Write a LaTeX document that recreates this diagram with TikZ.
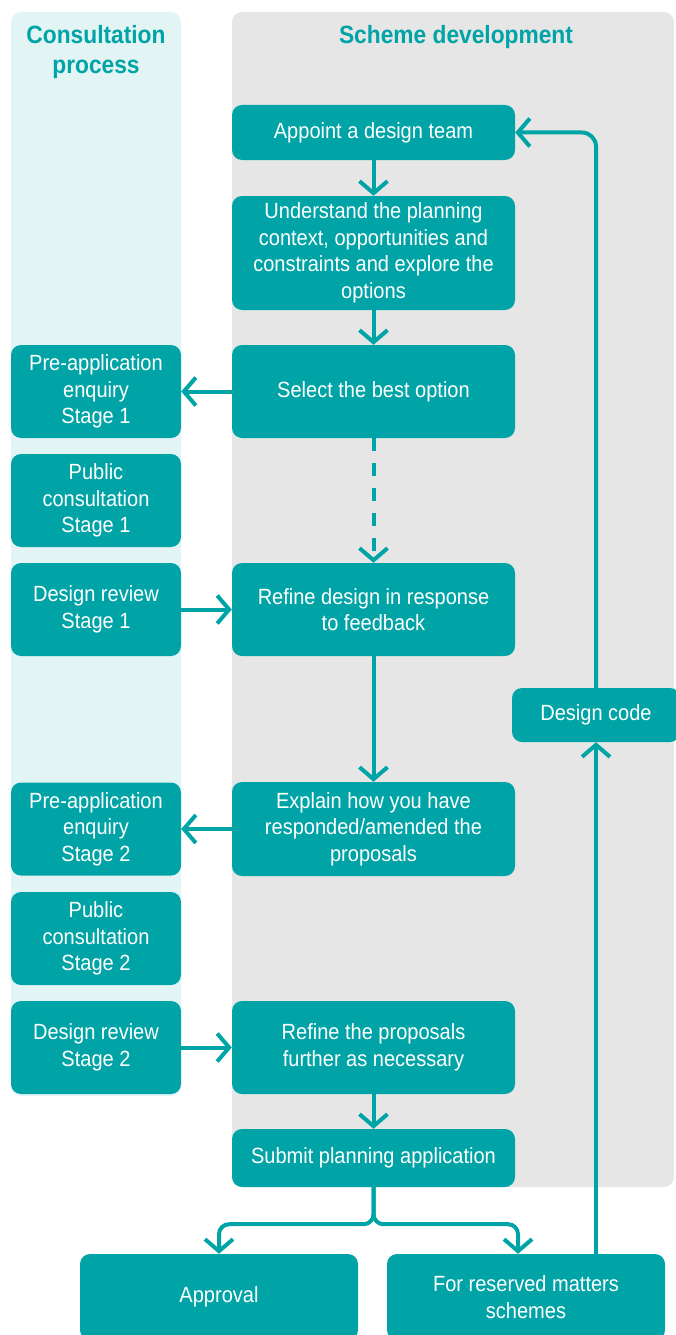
\documentclass[tikz,border=0pt]{standalone}
\usepackage{fontspec}
\setmainfont{Liberation Sans}[FakeStretch=0.91]
\usetikzlibrary{arrows.meta}

\definecolor{planteal}{HTML}{00A4A6}
\definecolor{panelcyan}{HTML}{E3F4F5}
\definecolor{panelgrey}{HTML}{E6E6E6}

\begin{document}
\begin{tikzpicture}[x=1pt, y=-1pt,
    box/.style={fill=planteal, text=white, rounded corners=10pt, align=center,
        inner sep=0pt, font=\fontsize{22}{26.5}\selectfont},
    mainbox/.style={box, minimum width=283pt},
    sidebox/.style={box, minimum width=170pt, minimum height=93pt},
    flow/.style={draw=planteal, line width=4pt, -{Straight Barb[length=12pt,width=28pt]}},
    head/.style={text=planteal, align=center, font=\bfseries\fontsize{25}{30}\selectfont}]
\useasboundingbox (0,0) rectangle (675,1335);

% Column panels
\fill[panelcyan, rounded corners=10pt] (11,12) rectangle (181,1096);
\fill[panelgrey, rounded corners=10pt] (232,12) rectangle (674,1187);
\node[head] (conshead) at (96,52) {Consultation\\process};
\node[head] (schemehead) at (456,37) {Scheme development};

% Scheme development
\node[mainbox, minimum height=55pt] (appoint) at (373.5,132.5) {Appoint a design team};
\node[mainbox, minimum height=114pt] (understand) at (373.5,253) {Understand the planning\\context, opportunities and\\constraints and explore the\\options};
\node[mainbox, minimum height=93pt] (select) at (373.5,391.5) {Select the best option};
\node[mainbox, minimum height=93pt] (refinea) at (373.5,609.5) {Refine design in response\\to feedback};
\node[mainbox, minimum height=94pt] (explain) at (373.5,829) {Explain how you have\\responded/amended the\\proposals};
\node[mainbox, minimum height=93pt] (refineb) at (373.5,1047.5) {Refine the proposals\\further as necessary};
\node[mainbox, minimum height=58pt] (submit) at (373.5,1158) {Submit planning application};

% Consultation process
\node[sidebox] (preappa) at (96,391.5) {Pre-application\\enquiry\\Stage 1};
\node[sidebox] (publica) at (96,500.5) {Public\\consultation\\Stage 1};
\node[sidebox] (reviewa) at (96,609.5) {Design review\\Stage 1};
\node[sidebox] (preappb) at (96,829) {Pre-application\\enquiry\\Stage 2};
\node[sidebox] (publicb) at (96,938.5) {Public\\consultation\\Stage 2};
\node[sidebox] (reviewb) at (96,1047.5) {Design review\\Stage 2};

% Outcomes
\node[box, minimum width=168pt, minimum height=54pt] (designcode) at (596,715) {Design code};
\node[box, minimum width=278pt, minimum height=86pt] (approval) at (219,1297) {Approval};
\node[box, minimum width=278pt, minimum height=86pt] (reserved) at (526,1297) {For reserved matters\\schemes};

% Connectors
\draw[flow] (appoint.south) -- (understand.north);
\draw[flow] (understand.south) -- (select.north);
\draw[flow] (select.west) -- (preappa.east);
\draw[flow, dash pattern=on 13pt off 12pt] (select.south) -- (refinea.north);
\draw[flow] (reviewa.east) -- (refinea.west);
\draw[flow] (refinea.south) -- (explain.north);
\draw[flow] (explain.west) -- (preappb.east);
\draw[flow] (reviewb.east) -- (refineb.west);
\draw[flow] (refineb.south) -- (submit.north);
\draw[flow, rounded corners=10pt] (submit.south) -- ++(0,37) -| (approval.north);
\draw[flow, rounded corners=10pt] (submit.south) -- ++(0,37) -| ([xshift=-8pt]reserved.north);
\draw[flow] (designcode.south |- reserved.north) -- (designcode.south);
\draw[flow, rounded corners=14pt] (designcode.north) |- (appoint.east);
\end{tikzpicture}
\end{document}
